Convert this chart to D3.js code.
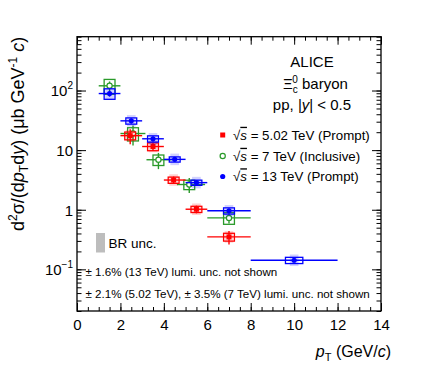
<!DOCTYPE html>
<html>
<head>
<meta charset="utf-8">
<script src="https://cdn.jsdelivr.net/npm/d3@7"></script>
<style>
  body { margin: 0; background: #fff; }
  svg text { font-family: "Liberation Sans", Arial, sans-serif; fill: #000; }
</style>
</head>
<body>
<div id="chart"></div>
<script>
// 5.02 TeV (prompt)
var ptRed = [2.45, 3.5, 4.45, 5.5, 7.0];
var lowRed = [2, 3, 4, 5, 6];
var highRed = [3, 4, 5, 6, 8];
var valRed = [17.5, 11.5, 3.15, 1.02, 0.35];
var statRed = [5, 1.8, 0.45, 0.15, 0.09];
var sysRed = [0.15, 0.15, 0.12, 0.12, 0.15];

// 7 TeV (inclusive)
var ptGreen = [1.5, 2.58, 3.75, 5.17, 7.0];
var lowGreen = [1, 2, 3.2, 4.6, 6];
var highGreen = [2, 3.15, 4.35, 5.9, 8];
var valGreen = [120, 19, 6.9, 2.65, 0.73];
var statGreen = [22, 7, 2.1, 0.75, 0.14];
var sysGreen = [0.28, 0.25, 0.2, 0.18, 0.22];

// 13 TeV (prompt)
var ptBlue = [1.5, 2.5, 3.5, 4.5, 5.5, 7, 10];
var lowBlue = [1, 2, 3, 4, 5, 6, 8];
var highBlue = [2, 3, 4, 5, 6, 8, 12];
var valBlue = [89, 31, 15.5, 7.0, 2.85, 0.96, 0.142];
var statBlue = [10, 3, 1.5, 0.5, 0.2, 0.08, 0.012];
var sysBlue = [0.2, 0.12, 0.12, 0.1, 0.1, 0.12, 0.12];

var xTicks = [0, 2, 4, 6, 8, 10, 12, 14];
var yTicks = [0.1, 1, 10, 100];
var yTickLabels = [["10", "\u22121"], ["1", ""], ["10", ""], ["10", "2"]];
var legendLabels = ["5.02 TeV (Prompt)", "7 TeV (Inclusive)", "13 TeV (Prompt)"];

var width = 424, height = 367;
var margin = { top: 36.7, right: 43, bottom: 56, left: 77 };
var w = width - margin.left - margin.right;
var h = height - margin.top - margin.bottom;

var RED = "#ff0000", GREEN = "#2a9a2a", BLUE = "#0000ff";

var svg = d3.select("#chart").append("svg")
    .attr("width", width)
    .attr("height", height);

var g = svg.append("g")
    .attr("transform", "translate(" + margin.left + "," + margin.top + ")");

var x = d3.scaleLinear().domain([0, 14]).range([0, w]);
var y = d3.scaleLog().domain([0.02, 800]).range([h, 0]);

// minor ticks
var xMinor = d3.range(0, 14.01, 0.5);
var yMinor = [];
[-2, -1, 0, 1, 2].forEach(function (d) {
    for (var k = 1; k <= 9; k++) {
        var v = k * Math.pow(10, d);
        if (v >= 0.02 && v <= 800) yMinor.push(v);
    }
});

function styleAxis(sel) {
    sel.select(".domain").remove();
    sel.selectAll("line").attr("stroke", "#000").attr("stroke-width", 1);
}

// bottom
g.append("g").attr("transform", "translate(0," + h + ")")
    .call(d3.axisBottom(x).tickValues(xMinor).tickSize(-4).tickFormat(""))
    .call(styleAxis);
g.append("g").attr("transform", "translate(0," + h + ")")
    .call(d3.axisBottom(x).tickValues(xTicks).tickSize(-8).tickPadding(8)
        .tickFormat(d3.format("d")))
    .call(styleAxis)
    .selectAll("text").attr("font-size", 15).attr("dy", "0.71em");
// top
g.append("g")
    .call(d3.axisTop(x).tickValues(xMinor).tickSize(-4).tickFormat(""))
    .call(styleAxis);
g.append("g")
    .call(d3.axisTop(x).tickValues(xTicks).tickSize(-8).tickFormat(""))
    .call(styleAxis);
// left
g.append("g")
    .call(d3.axisLeft(y).tickValues(yMinor).tickSize(-4.5).tickFormat(""))
    .call(styleAxis);
var yAx = g.append("g")
    .call(d3.axisLeft(y).tickValues(yTicks).tickSize(-9).tickPadding(4).tickFormat(""))
    .call(styleAxis);
yAx.selectAll(".tick").each(function (d, i) {
    var t = d3.select(this).append("text")
        .attr("x", -4).attr("dy", "0.36em")
        .attr("text-anchor", "end").attr("font-size", 15);
    t.append("tspan").text(yTickLabels[i][0]);
    if (yTickLabels[i][1]) {
        t.append("tspan").attr("font-size", 10).attr("dy", "-0.75em")
            .text(yTickLabels[i][1]);
    }
});
// right
g.append("g").attr("transform", "translate(" + w + ",0)")
    .call(d3.axisRight(y).tickValues(yMinor).tickSize(-4.5).tickFormat(""))
    .call(styleAxis);
g.append("g").attr("transform", "translate(" + w + ",0)")
    .call(d3.axisRight(y).tickValues(yTicks).tickSize(-9).tickFormat(""))
    .call(styleAxis);

g.append("rect")
    .attr("width", w).attr("height", h)
    .attr("fill", "none").attr("stroke", "#000").attr("stroke-width", 1.3);

// series
function makeSeries(pt, lo, hi, val, stat, sys, color, marker, halo) {
    return pt.map(function (p, i) {
        return { pt: p, lo: lo[i], hi: hi[i], v: val[i], stat: stat[i], sys: sys[i],
                 color: color, marker: marker, halo: halo };
    });
}
var series = [
    makeSeries(ptGreen, lowGreen, highGreen, valGreen, statGreen, sysGreen, GREEN, "open", false),
    makeSeries(ptRed, lowRed, highRed, valRed, statRed, sysRed, RED, "square", true),
    makeSeries(ptBlue, lowBlue, highBlue, valBlue, statBlue, sysBlue, BLUE, "circle", true)
];

var plot = g.append("g");
series.forEach(function (s) {
    var pts = plot.append("g").selectAll("g").data(s).join("g");

    // shaded band
    pts.filter(function (d) { return d.halo; }).append("rect")
        .attr("x", function (d) { return x(d.pt - 0.2); })
        .attr("width", function (d) { return x(0.4) - x(0); })
        .attr("y", function (d) { return y(d.v * 1.25); })
        .attr("height", function (d) { return y(d.v / 1.25) - y(d.v * 1.25); })
        .attr("fill", function (d) { return d.color; })
        .attr("opacity", 0.18);

    // x error
    pts.append("line")
        .attr("x1", function (d) { return x(d.lo); })
        .attr("x2", function (d) { return x(d.hi); })
        .attr("y1", function (d) { return y(d.v); })
        .attr("y2", function (d) { return y(d.v); })
        .attr("stroke", function (d) { return d.color; })
        .attr("stroke-width", 1.4);
    // stat error
    pts.append("line")
        .attr("x1", function (d) { return x(d.pt); })
        .attr("x2", function (d) { return x(d.pt); })
        .attr("y1", function (d) { return y(d.v + d.stat); })
        .attr("y2", function (d) { return y(Math.max(d.v - d.stat, 0.021)); })
        .attr("stroke", function (d) { return d.color; })
        .attr("stroke-width", 1.4);
    // sys box
    pts.append("rect")
        .attr("x", function (d) {
            var bw = Math.max(0.25, 0.1 * (d.hi - d.lo));
            return x(d.pt - bw);
        })
        .attr("width", function (d) {
            var bw = Math.max(0.25, 0.1 * (d.hi - d.lo));
            return x(2 * bw) - x(0);
        })
        .attr("y", function (d) { return y(d.v * (1 + d.sys)); })
        .attr("height", function (d) { return y(d.v * (1 - d.sys)) - y(d.v * (1 + d.sys)); })
        .attr("fill", "none")
        .attr("stroke", function (d) { return d.color; })
        .attr("stroke-width", 1.3);
    drawMarker(pts, s[0].marker, s[0].color,
        function (d) { return x(d.pt); }, function (d) { return y(d.v); });
});

function drawMarker(sel, type, color, fx, fy) {
    if (type === "square") {
        sel.append("rect")
            .attr("x", function (d) { return fx(d) - 2.5; })
            .attr("y", function (d) { return fy(d) - 2.5; })
            .attr("width", 5).attr("height", 5)
            .attr("fill", color);
    } else if (type === "circle") {
        sel.append("circle")
            .attr("cx", fx).attr("cy", fy).attr("r", 2.6)
            .attr("fill", color);
    } else {
        sel.append("circle")
            .attr("cx", fx).attr("cy", fy).attr("r", 2.6)
            .attr("fill", "#fff").attr("stroke", color).attr("stroke-width", 1.2);
    }
}

// header text
svg.append("text").attr("x", 312).attr("y", 67).attr("text-anchor", "middle")
    .attr("font-size", 15).text("ALICE");
var xi = svg.append("text").attr("x", 283).attr("y", 88.5).attr("font-size", 15);
xi.append("tspan").text("\u039E");
xi.append("tspan").attr("font-size", 10).attr("dy", 4).text("c");
xi.append("tspan").attr("font-size", 10).attr("dx", -5.5).attr("dy", -10).text("0");
xi.append("tspan").attr("dy", 6).text(" baryon");
var pp = svg.append("text").attr("x", 312).attr("y", 109.5).attr("text-anchor", "middle")
    .attr("font-size", 15);
pp.append("tspan").text("pp, |");
pp.append("tspan").attr("font-style", "italic").text("y");
pp.append("tspan").text("| < 0.5");

// legend
var legY = [135, 156, 176.5];
var legData = [
    { marker: "square", color: RED },
    { marker: "open", color: GREEN },
    { marker: "circle", color: BLUE }
];
legData.forEach(function (d, i) {
    var lg = svg.append("g");
    var one = lg.selectAll("g").data([d]).join("g");
    drawMarker(one, d.marker, d.color, function () { return 222.7; }, function () { return legY[i]; });
    var t = lg.append("text").attr("x", 233).attr("y", legY[i]).attr("dy", "0.36em")
        .attr("font-size", 13.3);
    t.append("tspan").text("\u221A");
    t.append("tspan").attr("font-style", "italic").style("text-decoration", "overline").text("s");
    t.append("tspan").text(" = " + legendLabels[i]);
});

// BR unc.
svg.append("rect").attr("x", 96).attr("y", 233).attr("width", 9).attr("height", 19.5)
    .attr("fill", "#bdbdbd");
svg.append("text").attr("x", 108.5).attr("y", 248).attr("font-size", 13.5).text("BR unc.");

svg.append("text").attr("x", 85.5).attr("y", 276).attr("font-size", 11.6)
    .text("\u00B1 1.6% (13 TeV) lumi. unc. not shown");
svg.append("text").attr("x", 85.5).attr("y", 297.5).attr("font-size", 11.6)
    .text("\u00B1 2.1% (5.02 TeV), \u00B1 3.5% (7 TeV) lumi. unc. not shown");

// x title
var xt = svg.append("text").attr("x", 391).attr("y", 357)
    .attr("text-anchor", "end").attr("font-size", 16);
xt.append("tspan").attr("font-style", "italic").text("p");
xt.append("tspan").attr("font-size", 11).attr("dy", 4).text("T");
xt.append("tspan").attr("dy", -4).text(" (GeV/");
xt.append("tspan").attr("font-style", "italic").text("c");
xt.append("tspan").text(")");

// y title
var yt = svg.append("text")
    .attr("transform", "translate(24," + margin.top + ") rotate(-90)")
    .attr("text-anchor", "end").attr("font-size", 18);
yt.append("tspan").text("d");
yt.append("tspan").attr("font-size", 12).attr("dy", -7).text("2");
yt.append("tspan").attr("dy", 7).text("\u03C3/(d");
yt.append("tspan").attr("font-style", "italic").text("p");
yt.append("tspan").attr("font-size", 12).attr("dy", 4).text("T");
yt.append("tspan").attr("dy", -4).text("d");
yt.append("tspan").attr("font-style", "italic").text("y");
yt.append("tspan").text(") (\u03BCb GeV");
yt.append("tspan").attr("font-size", 12).attr("dy", -7).text("-1");
yt.append("tspan").attr("dy", 7).text(" ");
yt.append("tspan").attr("font-style", "italic").text("c");
yt.append("tspan").text(")");
</script>
</body>
</html>
